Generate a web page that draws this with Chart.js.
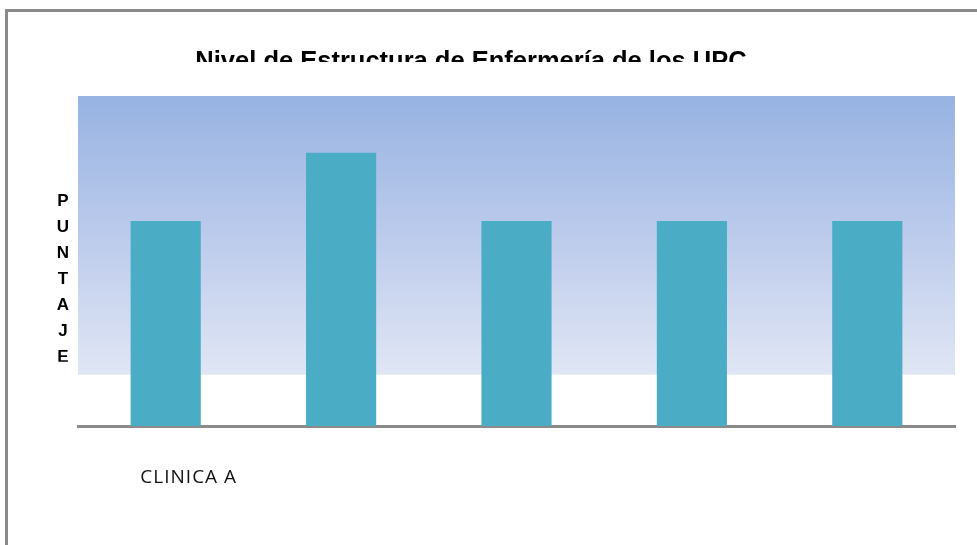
<!DOCTYPE html>
<html>
<head>
<meta charset="utf-8">
<script src="https://cdn.jsdelivr.net/npm/chart.js@4"></script>
<style>
  html, body { margin: 0; padding: 0; background: #fff; overflow: hidden; }
  #wrap { position: relative; width: 977px; height: 545px; }
  #frame { position: absolute; left: 5px; top: 9px; width: 1000px; height: 600px;
           border-top: 3px solid #8a8a8a; border-left: 3px solid #8a8a8a; }
  canvas { position: absolute; left: 0; top: 0; }
</style>
</head>
<body>
<div id="wrap">
  <div id="frame"></div>
  <canvas id="chart" width="977" height="545"></canvas>
</div>
<script>
const titleText = 'Nivel de Estructura de Enfermería de los UPC';
const yTitle = 'PUNTAJE';
const categories = ['CLINICA A', '', '', '', ''];
const scores = [3, 4, 3, 3, 3];
const yMax = 4.83;
const bandFloor = 0.75; // where the shaded plot background stops

// shaded background + letters of the y title + clipped chart title
const decor = {
  id: 'decor',
  beforeDraw(chart) {
    chart.ctx.letterSpacing = '1px'; // loose spacing of the category label
  },
  beforeDatasetsDraw(chart) {
    const { ctx, chartArea, scales } = chart;
    const bottom = scales.y.getPixelForValue(bandFloor);
    const g = ctx.createLinearGradient(0, chartArea.top, 0, bottom);
    g.addColorStop(0, '#97b3e2');
    g.addColorStop(0.5, '#bccbec');
    g.addColorStop(1, '#e0e6f4');
    ctx.save();
    ctx.fillStyle = g;
    ctx.fillRect(chartArea.left, chartArea.top, chartArea.right - chartArea.left, bottom - chartArea.top);
    ctx.restore();
  },
  afterDraw(chart) {
    const { ctx, scales } = chart;
    ctx.letterSpacing = '0px';
    ctx.save();
    // title, cut off at the bottom like the original
    ctx.beginPath();
    ctx.rect(0, 0, chart.width, 62);
    ctx.clip();
    ctx.fillStyle = '#000';
    ctx.font = 'bold 25.5px "Liberation Sans", Arial, sans-serif';
    ctx.textAlign = 'center';
    ctx.textBaseline = 'alphabetic';
    ctx.fillText(titleText, 471, 69);
    ctx.restore();

    ctx.save();
    ctx.beginPath();
    ctx.rect(0, 0, chart.width, scales.y.getPixelForValue(bandFloor) - 13);
    ctx.clip();
    ctx.fillStyle = '#000';
    ctx.font = 'bold 17px "Liberation Sans", Arial, sans-serif';
    ctx.textAlign = 'center';
    ctx.textBaseline = 'middle';
    yTitle.split('').forEach((ch, i) => ctx.fillText(ch, 63, 201 + i * 26));
    ctx.restore();
  }
};

new Chart(document.getElementById('chart'), {
  type: 'bar',
  data: {
    labels: categories,
    datasets: [{
      data: scores,
      backgroundColor: '#4bacc6',
      borderWidth: 0,
      categoryPercentage: 0.4,
      barPercentage: 1
    }]
  },
  options: {
    responsive: false,
    animation: false,
    layout: { padding: { left: 78, right: 22, top: 96, bottom: 0 } },
    plugins: { legend: { display: false }, title: { display: false }, tooltip: { enabled: false } },
    scales: {
      x: {
        grid: { display: false, drawTicks: false },
        border: { display: true, color: '#8a8a8a', width: 3 },
        ticks: {
          padding: 40,
          labelOffset: 23,
          color: '#111',
          font: { family: '"Open Sans", sans-serif', size: 19 }
        },
        afterFit(scale) { scale.height = 119; }
      },
      y: {
        display: false,
        min: 0,
        max: yMax
      }
    }
  },
  plugins: [decor]
});
</script>
</body>
</html>
